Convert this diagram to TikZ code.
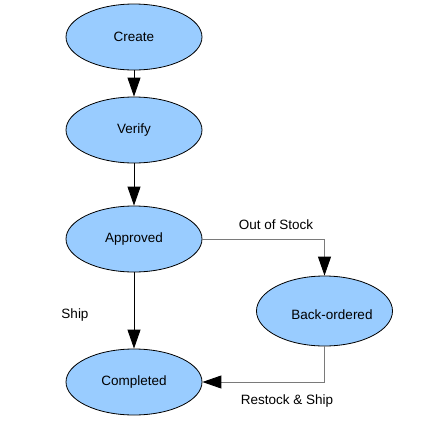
\documentclass[tikz,border=0pt]{standalone}
\usepackage{fontspec}
\setmainfont{Liberation Sans}
\usetikzlibrary{shapes.geometric,arrows.meta}
\definecolor{statefill}{HTML}{99CCFF}
\definecolor{linegray}{HTML}{7A7A7A}
\tikzset{
  state/.style={ellipse, draw=black, line width=0.8pt, fill=statefill,
    minimum width=136pt, minimum height=66pt, inner sep=0pt,
    font=\fontsize{13.5}{15}\selectfont},
  tip/.style={-{Triangle[length=19pt,width=13pt,fill=black,color=black]}},
  bigarrow/.style={tip, line width=0.9pt},
  lbl/.style={font=\fontsize{13.5}{15}\selectfont, inner sep=0pt}
}
\begin{document}
\begin{tikzpicture}[x=1pt,y=-1pt]
\useasboundingbox (0,0) rectangle (440,432);
\node[state] (create) at (134,37) {Create};
\node[state] (verify) at (134,130) {Verify};
\node[state] (approved) at (134,239) {Approved};
\node[state] (completed) at (134,382) {Completed};
\node[state, minimum height=70pt] (back) at (324.5,311) {};
\node[lbl] (backtext) at (332,315) {Back-ordered};
\coordinate (c1) at (324.5,239);
\coordinate (c2) at (324.5,382);
\draw[bigarrow] (create) -- (verify);
\draw[bigarrow] (verify) -- (approved);
\draw[bigarrow] (approved) -- (completed);
\draw[bigarrow, draw=linegray] (approved.east) -- (c1) -- (back.north);
\draw[bigarrow, draw=linegray] (back.south) -- (c2) -- (completed.east);
\node[lbl] (oos) at (276,225) {Out of Stock};
\node[lbl] (rs) at (287,401) {Restock \& Ship};
\node[lbl] (ship) at (75,315) {Ship};
\end{tikzpicture}
\end{document}
